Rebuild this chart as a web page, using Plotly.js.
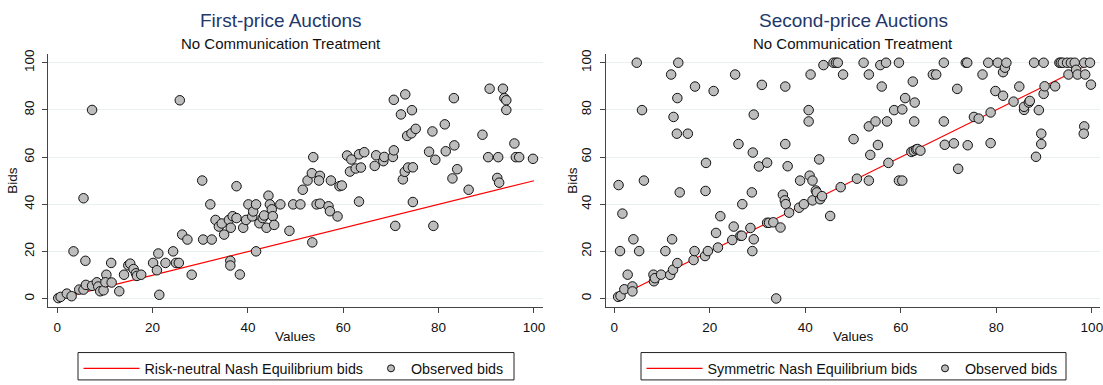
<!DOCTYPE html>
<html>
<head>
<meta charset="utf-8">
<script src="https://cdn.plot.ly/plotly-3.0.1.min.js"></script>
<style>
  html, body { margin: 0; padding: 0; background: #fff; }
  #chart { width: 1103px; height: 385px; }
</style>
</head>
<body>
<div id="chart"></div>
<script>
// ---------- Data ----------
// First-price auctions: observed (value, bid) pairs
const fpValues = [0.2,0.7,2.0,3.0,3.4,4.6,5.5,6.0,5.5,5.9,7.3,7.3,8.3,8.6,9.0,9.7,10.3,10.1,11.4,11.3,
  13.0,14.0,14.9,15.3,16.0,16.5,16.7,17.6,20.1,20.9,21.2,21.4,22.7,24.3,24.9,25.5,25.7,26.2,27.3,28.2,
  30.4,30.6,32.1,32.4,33.2,33.9,34.5,35.0,36.0,36.4,36.8,36.3,36.3,37.6,37.6,38.3,39.0,39.6,40.1,40.9,
  41.1,41.7,41.7,42.4,43.1,43.4,43.9,44.3,44.6,45.0,45.2,45.5,46.8,48.7,49.5,51.0,51.5,52.5,53.4,53.7,
  54.4,55.1,55.1,54.9,53.5,56.9,57.2,57.4,58.8,59.2,59.7,60.8,61.7,61.4,62.6,63.3,63.7,63.3,64.4,66.6,
  66.9,68.4,68.6,70.4,70.6,70.6,70.9,72.1,72.5,72.9,73.0,73.4,73.6,74.3,74.4,74.6,74.6,75.2,78.0,78.7,
  78.9,79.3,81.3,81.5,82.9,83.2,83.3,83.9,86.3,89.2,90.4,90.7,92.3,92.5,92.7,93.5,93.8,94.2,94.2,95.9,
  96.2,96.9,99.8];
const fpBids = [0.3,0.8,2.2,1.1,20.1,3.9,3.9,5.9,42.6,16.1,80.0,5.5,7.0,5.2,3.2,3.6,10.2,7.0,6.9,15.2,
  3.2,10.2,14.2,14.9,12.6,10.8,9.7,10.2,15.2,12.1,19.2,1.7,15.2,20.1,15.2,15.2,84.1,27.2,25.1,10.2,
  50.1,25.1,40.0,25.1,33.4,30.6,31.9,27.2,33.4,30.1,35.0,16.1,14.1,47.7,34.2,10.3,30.1,33.4,40.0,34.9,
  37.0,40.0,20.1,32.0,34.2,35.3,30.1,43.7,40.0,37.9,35.0,31.3,40.0,28.8,40.0,40.0,46.2,50.1,53.2,60.0,
  40.0,40.3,52.1,50.1,23.9,39.2,37.1,50.1,34.9,47.7,48.0,60.7,59.0,53.9,55.2,61.2,55.6,41.2,62.1,56.3,
  60.8,58.3,60.1,60.1,62.9,84.3,30.9,78.1,50.6,53.8,86.6,69.0,55.6,70.1,79.9,55.7,41.0,72.0,62.3,70.9,
  30.9,58.9,73.9,62.5,51.0,85.0,65.0,54.9,46.2,69.5,60.0,89.0,51.2,60.0,49.2,89.0,85.0,84.1,80.0,65.8,
  60.0,60.0,59.3];

// Second-price auctions: observed (value, bid) pairs
const spValues = [0.8,1.3,0.9,1.7,1.2,2.1,2.8,3.8,4.0,3.8,4.7,5.2,5.8,6.2,8.2,8.3,8.5,9.8,10.7,11.7,
  11.9,12.1,12.3,12.4,13.1,13.2,13.4,13.2,13.7,15.4,16.6,16.8,16.9,19.0,19.2,19.1,19.6,20.8,21.3,21.7,
  22.2,24.7,25.0,25.3,26.0,26.4,26.7,26.8,28.5,28.8,29.0,29.2,29.2,28.9,30.3,30.9,32.0,32.0,32.4,33.3,
  34.8,33.9,35.3,35.7,35.8,35.8,35.9,36.3,36.6,38.7,38.9,39.7,40.7,40.7,40.9,41.1,41.5,41.5,42.2,42.4,
  42.9,43.1,43.5,43.8,45.2,45.9,46.4,46.8,47.4,47.9,50.8,50.1,52.2,53.3,53.3,54.7,53.6,55.2,53.3,55.7,
  56.9,56.0,57.1,57.4,58.6,59.6,59.6,60.3,60.3,60.9,62.5,62.9,62.8,62.2,62.7,63.2,63.5,64.1,66.7,67.4,
  69.0,69.0,69.2,71.1,71.8,72.0,73.6,73.9,74.0,75.3,76.3,77.1,78.3,78.8,78.8,80.3,81.4,81.8,82.1,79.8,
  81.4,83.6,84.8,85.8,85.8,86.8,87.0,87.9,88.3,88.9,89.4,89.4,89.9,89.9,90.1,92.3,93.2,93.5,93.9,94.8,
  95.1,95.6,96.4,96.7,97.0,98.4,98.6,98.4,98.3,99.6,99.8];
const spBids = [0.7,1.1,48.1,36.0,20.1,3.9,10.1,5.1,25.1,3.0,100,20.1,79.9,50.0,10.1,7.3,8.6,10.1,20.1,10.0,
  95.0,25.1,12.2,77.0,69.9,85.0,100,15.0,45.0,69.9,16.3,20.1,89.9,18.0,57.5,45.6,20.1,88.0,27.8,21.6,
  34.9,24.8,30.5,95.0,65.5,26.6,26.6,40.0,29.9,45.0,61.9,25.1,78.0,20.1,56.0,90.6,57.6,32.1,32.1,32.3,
  30.1,0.0,44.0,41.6,65.5,89.9,40.0,56.1,36.4,38.5,50.0,40.0,79.9,75.1,52.1,95.0,50.0,41.6,45.8,45.0,
  59.0,42.1,43.4,99.0,35.0,100,100,100,47.2,95.0,50.8,67.6,100,95.0,73.0,75.1,60.9,65.1,50.0,99.0,
  100,89.9,75.1,57.5,79.9,100,50.0,50.0,80.2,85.0,92.0,83.1,75.1,62.2,62.6,63.2,63.4,62.7,95.0,95.0,
  100,75.1,65.2,65.8,88.9,55.0,100,100,65.0,77.0,76.3,95.0,100,78.9,65.9,100,96.0,97.9,100,88.0,
  86.0,83.5,89.9,80.0,81.3,83.1,83.8,100,60.1,79.9,69.9,65.5,100,86.8,90.0,90.0,100,100,100,100,
  95.0,100,100,97.0,95.0,100,95.0,73.0,69.9,100,90.7];

// Theoretical benchmarks
const rnneValues = [0, 100];
const rnneBids = [0, 50];
const sneValues = [0, 100];
const sneBids = [0, 100];

const tickValues = [0, 20, 40, 60, 80, 100];
const tickText = ['0', '20', '40', '60', '80', '100'];

const panelTitles = ['First-price Auctions', 'Second-price Auctions'];
const panelSubtitle = 'No Communication Treatment';
const lineNames = ['Risk-neutral Nash Equilibrium bids', 'Symmetric Nash Equilibrium bids'];
const pointName = 'Observed bids';
const xLabel = 'Values';
const yLabel = 'Bids';

// ---------- Styling ----------
const W = 1103, H = 385;
const FONT = 'Liberation Sans, Arial, Helvetica, sans-serif';
const px = v => v / W;
const py = v => 1 - v / H;

const markerStyle = { color: '#bdbdbd', size: 9.5, line: { color: '#111', width: 1 } };
const legendMarker = { color: '#bdbdbd', size: 7, line: { color: '#111', width: 1 } };
const redLine = { color: '#ff0000', width: 1.2 };

const traces = [
  // panel 1
  { x: rnneValues, y: rnneBids, type: 'scatter', mode: 'lines', line: redLine,
    name: lineNames[0], xaxis: 'x', yaxis: 'y', legend: 'legend', hoverinfo: 'skip' },
  { x: fpValues, y: fpBids, type: 'scatter', mode: 'markers', marker: markerStyle,
    name: pointName, xaxis: 'x', yaxis: 'y', showlegend: false },
  { x: [null], y: [null], type: 'scatter', mode: 'markers', marker: legendMarker,
    name: pointName, xaxis: 'x', yaxis: 'y', legend: 'legend3' },
  // panel 2
  { x: sneValues, y: sneBids, type: 'scatter', mode: 'lines', line: redLine,
    name: lineNames[1], xaxis: 'x2', yaxis: 'y2', legend: 'legend2', hoverinfo: 'skip' },
  { x: spValues, y: spBids, type: 'scatter', mode: 'markers', marker: markerStyle,
    name: pointName, xaxis: 'x2', yaxis: 'y2', showlegend: false },
  { x: [null], y: [null], type: 'scatter', mode: 'markers', marker: legendMarker,
    name: pointName, xaxis: 'x2', yaxis: 'y2', legend: 'legend4' }
];

const axisCommon = {
  showline: true, linecolor: '#444', linewidth: 1,
  ticks: 'outside', ticklen: 5, tickcolor: '#444', tickwidth: 1,
  tickvals: tickValues, ticktext: tickText,
  tickfont: { family: FONT, size: 13.5, color: '#111' },
  ticklabeloverflow: 'allow',
  zeroline: false, fixedrange: true
};
const xAxis = (dom, rng) => Object.assign({}, axisCommon, {
  domain: dom, range: rng, showgrid: false, ticklabelstandoff: 3
});
const yAxis = (dom, rng, anchor) => Object.assign({}, axisCommon, {
  domain: dom, range: rng, showgrid: true, gridcolor: '#e8f0f2', gridwidth: 1,
  tickangle: -90, anchor: anchor, ticklabelstandoff: 3
});

const legendCommon = {
  orientation: 'h', xanchor: 'left', yanchor: 'top',
  borderwidth: 0, bgcolor: 'rgba(0,0,0,0)',
  font: { family: FONT, size: 14.3, color: '#111' },
  itemclick: false, itemdoubleclick: false
};
const legendBox = (x0, x1) => ({
  type: 'rect', xref: 'paper', yref: 'paper',
  x0: px(x0), x1: px(x1), y0: py(389), y1: py(361),
  line: { color: '#222', width: 1 }, fillcolor: 'rgba(0,0,0,0)', layer: 'above'
});

const ann = (text, x, y, size, color, angle) => ({
  text: text, xref: 'paper', yref: 'paper', x: px(x), y: py(y),
  xanchor: 'center', yanchor: 'middle', showarrow: false, textangle: angle || 0,
  font: { family: FONT, size: size, color: color }
});

const titleColor = '#23386a';
const layout = {
  width: W, height: H,
  margin: { l: 0, r: 0, t: 0, b: 0 },
  paper_bgcolor: '#fff', plot_bgcolor: '#fff',
  showlegend: true,
  xaxis: xAxis([px(48), px(543)], [-1.95, 101.9]),
  yaxis: yAxis([py(314.3), py(55.3)], [-3.45, 103.7], 'x'),
  xaxis2: xAxis([px(605.7), px(1100)], [-1.8, 101.7]),
  yaxis2: yAxis([py(314.3), py(55.3)], [-3.6, 103.7], 'x2'),
  legend: Object.assign({}, legendCommon, { x: px(78.5), y: py(361), itemwidth: 56 }),
  legend3: Object.assign({}, legendCommon, { x: px(371), y: py(361), itemwidth: 30 }),
  legend2: Object.assign({}, legendCommon, { x: px(641.5), y: py(361), itemwidth: 56 }),
  legend4: Object.assign({}, legendCommon, { x: px(925), y: py(361), itemwidth: 30 }),
  shapes: [legendBox(78, 514), legendBox(641, 1066)],
  annotations: [
    ann(panelTitles[0], 281, 21, 19, titleColor),
    ann(panelSubtitle, 281, 45, 15, '#111'),
    ann(panelTitles[1], 853, 21, 19, titleColor),
    ann(panelSubtitle, 853, 45, 15, '#111'),
    ann(xLabel, 295.5, 345, 13.5, '#111'),
    ann(xLabel, 853, 345, 13.5, '#111'),
    ann(yLabel, 13, 185, 13.5, '#111', -90),
    ann(yLabel, 573, 185, 13.5, '#111', -90)
  ]
};

Plotly.newPlot('chart', traces, layout, { displayModeBar: false, staticPlot: true });
</script>
</body>
</html>
